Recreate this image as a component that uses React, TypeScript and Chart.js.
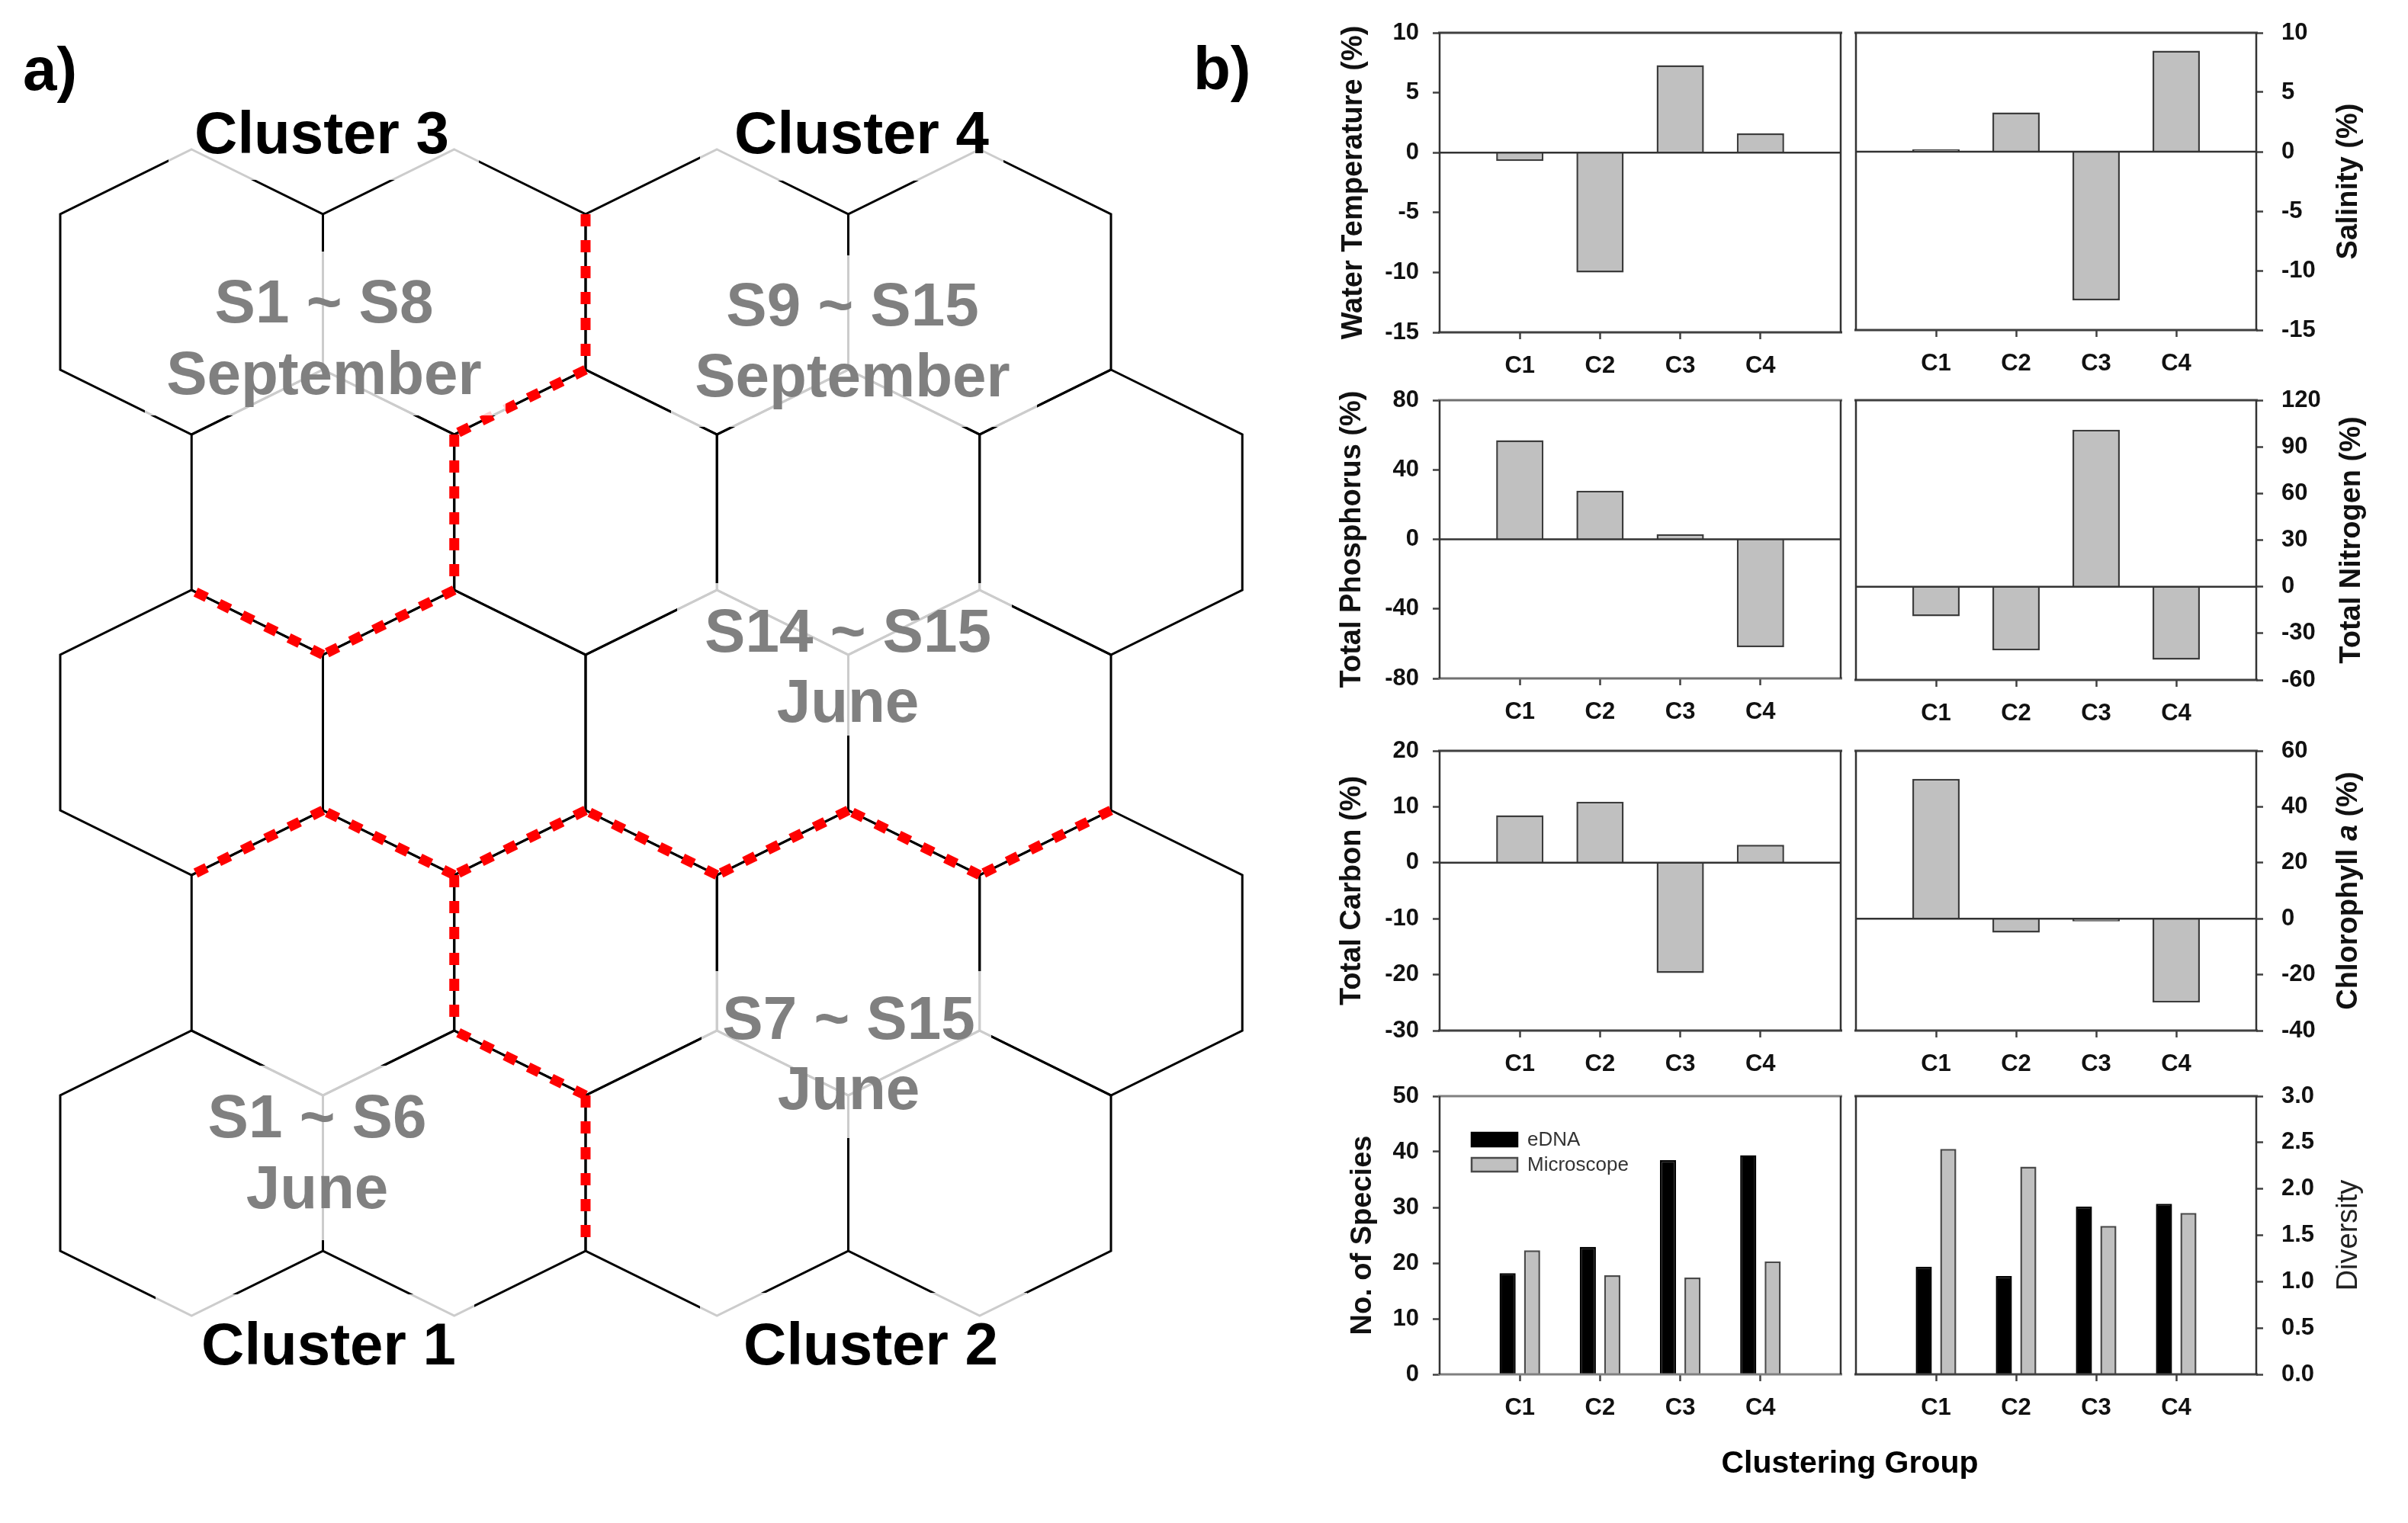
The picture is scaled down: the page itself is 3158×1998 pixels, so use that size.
import React, { useEffect, useRef } from "react";
import { Chart, registerables } from "chart.js";

Chart.register(...registerables);

const FONT = '"Liberation Sans", Arial, Helvetica, sans-serif';
Chart.defaults.font.family = FONT;

// ---------------- data: panel a (5 x 4 SOM, cluster of every cell) ----------------
const SOM_CLUSTER: number[][] = [
  [3, 3, 4, 4],
  [3, 4, 4, 4],
  [4, 4, 4, 4],
  [1, 2, 2, 2],
  [1, 1, 2, 2],
];

// ---------------- data: panel b ----------------
const GROUPS = ["C1", "C2", "C3", "C4"];
const WATER_TEMP = [-0.7, -10.0, 7.3, 1.6];
const SALINITY = [0.2, 3.3, -12.5, 8.5];
const TOTAL_P = [57, 28, 3, -62];
const TOTAL_N = [-19, -41, 101, -47];
const TOTAL_C = [8.5, 10.9, -19.7, 3.2];
const CHL_A = [50, -5, -1, -30];
const SPECIES_EDNA = [18.2, 22.9, 38.5, 39.4];
const SPECIES_MICRO = [22.3, 17.8, 17.4, 20.3];
const DIVERSITY_EDNA = [1.16, 1.06, 1.81, 1.84];
const DIVERSITY_MICRO = [2.43, 2.24, 1.6, 1.74];
const METHODS = ["eDNA", "Microscope"];

// ---------------- panel a drawing ----------------
const HEX_A = 0.353; // half of vertical side (in row-pitch units)
const HEX_B = 0.647; // half of total height (in row-pitch units)

function hexVerts(cx: number, cy: number) {
  return [
    [cx, cy - HEX_B],
    [cx + 0.5, cy - HEX_A],
    [cx + 0.5, cy + HEX_A],
    [cx, cy + HEX_B],
    [cx - 0.5, cy + HEX_A],
    [cx - 0.5, cy - HEX_A],
  ];
}

const MAP_TEXT = [
  { lines: ["Cluster 3"], x: 422, ys: [201], color: "#000", size: 78, box: [221, 115, 628, 236] },
  { lines: ["Cluster 4"], x: 1130, ys: [201], color: "#000", size: 78, box: [918, 115, 1316, 237] },
  { lines: ["Cluster 1"], x: 431, ys: [1790], color: "#000", size: 78, box: [204, 1698, 622, 1800] },
  { lines: ["Cluster 2"], x: 1142, ys: [1790], color: "#000", size: 78, box: [918, 1696, 1347, 1800] },
  { lines: ["S1 ~ S8", "September"], x: 425, ys: [423, 517], color: "#808080", size: 80, box: [190, 330, 663, 545] },
  { lines: ["S9 ~ S15", "September"], x: 1118, ys: [427, 520], color: "#808080", size: 80, box: [880, 335, 1360, 560] },
  { lines: ["S14 ~ S15", "June"], x: 1112, ys: [855, 947], color: "#808080", size: 80, box: [888, 765, 1327, 965] },
  { lines: ["S7 ~ S15", "June"], x: 1113, ys: [1363, 1455], color: "#808080", size: 80, box: [920, 1274, 1300, 1493] },
  { lines: ["S1 ~ S6", "June"], x: 416, ys: [1492, 1585], color: "#808080", size: 80, box: [260, 1398, 575, 1627] },
];

const hexPlugin = {
  id: "hexmap",
  afterDatasetsDraw(chart: any) {
    const { ctx } = chart;
    const xs = chart.scales.x;
    const ys = chart.scales.y;
    const P = (p: number[]) => [xs.getPixelForValue(p[0]), ys.getPixelForValue(p[1])];
    const cells = chart.data.datasets[0].data as any[];
    ctx.save();
    // black hex outlines
    ctx.strokeStyle = "#000";
    ctx.lineWidth = 3;
    ctx.lineJoin = "miter";
    cells.forEach((cell) => {
      const v = hexVerts(cell.x, cell.y).map(P);
      ctx.beginPath();
      v.forEach((p, i) => (i ? ctx.lineTo(p[0], p[1]) : ctx.moveTo(p[0], p[1])));
      ctx.closePath();
      ctx.stroke();
    });
    // red dashed boundaries between cells of different clusters
    const k = (r: number, c: number) => (SOM_CLUSTER[r] ? SOM_CLUSTER[r][c] : undefined);
    ctx.strokeStyle = "#ff0000";
    ctx.lineWidth = 13;
    ctx.lineCap = "butt";
    ctx.setLineDash([16, 18]);
    const seg = (a: number[], b: number[]) => {
      const pa = P(a), pb = P(b);
      ctx.beginPath();
      ctx.moveTo(pa[0], pa[1]);
      ctx.lineTo(pb[0], pb[1]);
      ctx.stroke();
    };
    cells.forEach((cell) => {
      const { r, c } = cell;
      const v = hexVerts(cell.x, cell.y);
      const odd = r % 2 === 1;
      const right = k(r, c + 1);
      const br = odd ? k(r + 1, c + 1) : k(r + 1, c);
      const bl = odd ? k(r + 1, c) : k(r + 1, c - 1);
      if (right !== undefined && right !== cell.k) seg(v[1], v[2]);
      if (br !== undefined && br !== cell.k) seg(v[2], v[3]);
      if (bl !== undefined && bl !== cell.k) seg(v[3], v[4]);
    });
    ctx.setLineDash([]);
    // label boxes and labels
    MAP_TEXT.forEach((t) => {
      ctx.fillStyle = "rgba(255,255,255,0.8)";
      ctx.fillRect(t.box[0], t.box[1], t.box[2] - t.box[0], t.box[3] - t.box[1]);
    });
    ctx.textAlign = "center";
    ctx.textBaseline = "alphabetic";
    MAP_TEXT.forEach((t) => {
      ctx.font = `bold ${t.size}px ${FONT}`;
      ctx.fillStyle = t.color;
      t.lines.forEach((ln, i) => ctx.fillText(ln, t.x, t.ys[i]));
    });
    // panel letters and shared axis title
    ctx.fillStyle = "#000";
    ctx.textAlign = "left";
    ctx.font = `bold 80px ${FONT}`;
    ctx.fillText("a)", 30, 118);
    ctx.fillText("b)", 1565, 117);
    ctx.textAlign = "center";
    ctx.font = `bold 41px ${FONT}`;
    ctx.fillText("Clustering Group", 2426, 1932);
    ctx.restore();
  },
};

function HexMap() {
  const ref = useRef<HTMLCanvasElement>(null);
  useEffect(() => {
    const cells: any[] = [];
    SOM_CLUSTER.forEach((row, r) =>
      row.forEach((cl, c) => cells.push({ x: c + (r % 2 ? 0.5 : 0), y: r, r, c, k: cl }))
    );
    const chart = new Chart(ref.current as HTMLCanvasElement, {
      type: "scatter",
      data: { datasets: [{ data: cells, pointRadius: 0, showLine: false }] },
      options: {
        responsive: false,
        animation: false,
        devicePixelRatio: 1,
        events: [],
        layout: { padding: 0 },
        scales: {
          x: { type: "linear", display: false, min: -0.7293, max: 8.4376 },
          y: { type: "linear", display: false, min: -1.3253, max: 5.5882, reverse: true },
        },
        plugins: { legend: { display: false }, tooltip: { enabled: false } },
      } as any,
      plugins: [hexPlugin],
    });
    return () => chart.destroy();
  }, []);
  return (
    <canvas
      ref={ref}
      width={3158}
      height={1998}
      style={{ position: "absolute", left: 0, top: 0, width: 3158, height: 1998 }}
    />
  );
}

// ---------------- panel b ----------------
const GRAY = "#c0c0c0";
const EDGE = "#3c3c3c";

type Series = { values: number[]; label: string; fill: string; border: string };
type PlotSpec = {
  x: number; y: number; w: number; h: number;
  side: "left" | "right";
  min: number; max: number; step: number; dec: number;
  series: Series[];
  title: { t: string; italic?: boolean }[];
  bold: boolean;
  titleOffset: number;
  legend?: boolean;
  frame?: string;
};

const one = (v: number[], label: string): Series[] => [{ values: v, label, fill: GRAY, border: EDGE }];
const two = (a: number[], b: number[]): Series[] => [
  { values: a, label: METHODS[0], fill: "#000", border: "#000" },
  { values: b, label: METHODS[1], fill: GRAY, border: "#4a4a4a" },
];

const PLOTS: PlotSpec[] = [
  { x: 1888, y: 43, w: 526, h: 393, side: "left", min: -15, max: 10, step: 5, dec: 0, series: one(WATER_TEMP, "Water Temperature"), title: [{ t: "Water Temperature (%)" }], bold: true, titleOffset: 112 },
  { x: 2434, y: 43, w: 525, h: 390, side: "right", min: -15, max: 10, step: 5, dec: 0, series: one(SALINITY, "Salinity"), title: [{ t: "Salinity (%)" }], bold: true, titleOffset: 122 },
  { x: 1888, y: 525, w: 526, h: 365, side: "left", min: -80, max: 80, step: 40, dec: 0, series: one(TOTAL_P, "Total Phosphorus"), title: [{ t: "Total Phosphorus (%)" }], bold: true, titleOffset: 114, frame: "#707070" },
  { x: 2434, y: 525, w: 525, h: 367, side: "right", min: -60, max: 120, step: 30, dec: 0, series: one(TOTAL_N, "Total Nitrogen"), title: [{ t: "Total Nitrogen (%)" }], bold: true, titleOffset: 126 },
  { x: 1888, y: 985, w: 526, h: 367, side: "left", min: -30, max: 20, step: 10, dec: 0, series: one(TOTAL_C, "Total Carbon"), title: [{ t: "Total Carbon (%)" }], bold: true, titleOffset: 114 },
  { x: 2434, y: 985, w: 525, h: 367, side: "right", min: -40, max: 60, step: 20, dec: 0, series: one(CHL_A, "Chlorophyll a"), title: [{ t: "Chlorophyll " }, { t: "a", italic: true }, { t: " (%)" }], bold: true, titleOffset: 122 },
  { x: 1888, y: 1438, w: 526, h: 365, side: "left", min: 0, max: 50, step: 10, dec: 0, series: two(SPECIES_EDNA, SPECIES_MICRO), title: [{ t: "No. of Species" }], bold: true, titleOffset: 100, legend: true, frame: "#808080" },
  { x: 2434, y: 1438, w: 525, h: 365, side: "right", min: 0, max: 3, step: 0.5, dec: 1, series: two(DIVERSITY_EDNA, DIVERSITY_MICRO), title: [{ t: "Diversity" }], bold: false, titleOffset: 122 },
];

const PAD_TOP = 30;
const X_AXIS_H = 70;
const LEFT_W = 148;
const RIGHT_W = 150;
const SIDE_PAD = 10;

function canvasRect(s: PlotSpec) {
  const left = s.side === "left" ? s.x - LEFT_W : s.x - SIDE_PAD;
  const w = s.side === "left" ? LEFT_W + s.w + SIDE_PAD : SIDE_PAD + s.w + RIGHT_W;
  return { left, top: s.y - PAD_TOP, w, h: PAD_TOP + s.h + X_AXIS_H };
}

function makeDecor(s: PlotSpec) {
  return {
    id: "decor",
    afterDatasetsDraw(chart: any) {
      const { ctx, chartArea: ca } = chart;
      const ys = chart.scales.y;
      ctx.save();
      if (s.min < 0) {
        const y0 = ys.getPixelForValue(0);
        ctx.strokeStyle = "#333";
        ctx.lineWidth = 2.5;
        ctx.beginPath();
        ctx.moveTo(ca.left, y0);
        ctx.lineTo(ca.right, y0);
        ctx.stroke();
      }
      const fc = s.frame || "#404040";
      ctx.strokeStyle = fc;
      ctx.lineWidth = 3;
      ctx.beginPath();
      ctx.moveTo(ca.left - 2, ca.top);
      ctx.lineTo(ca.right + 2, ca.top);
      ctx.moveTo(ca.left - 2, ca.bottom);
      ctx.lineTo(ca.right + 2, ca.bottom);
      ctx.stroke();
      ctx.strokeStyle = "#333";
      ctx.lineWidth = 2.5;
      ctx.beginPath();
      ctx.moveTo(ca.left, ca.top);
      ctx.lineTo(ca.left, ca.bottom);
      ctx.moveTo(ca.right, ca.top);
      ctx.lineTo(ca.right, ca.bottom);
      ctx.stroke();

      // rotated axis title (reads bottom to top)
      const tx = s.side === "left" ? ca.left - s.titleOffset : ca.right + s.titleOffset;
      const ty = (ca.top + ca.bottom) / 2;
      const fontOf = (p: any) => `${p.italic ? "italic " : ""}${s.bold ? "bold " : ""}38px ${FONT}`;
      let total = 0;
      s.title.forEach((p) => {
        ctx.font = fontOf(p);
        total += ctx.measureText(p.t).width;
      });
      ctx.translate(tx, ty);
      ctx.rotate(-Math.PI / 2);
      ctx.fillStyle = s.bold ? "#111" : "#222";
      ctx.textBaseline = "middle";
      ctx.textAlign = "left";
      let cx = -total / 2;
      s.title.forEach((p) => {
        ctx.font = fontOf(p);
        ctx.fillText(p.t, cx, 0);
        cx += ctx.measureText(p.t).width;
      });
      ctx.setTransform(1, 0, 0, 1, 0, 0);

      if (s.legend) {
        chart.data.datasets.forEach((ds: any, i: number) => {
          const bx = ca.left + 42;
          const by = ca.top + 48 + i * 33;
          ctx.fillStyle = ds.backgroundColor;
          ctx.fillRect(bx, by, 60, 18);
          ctx.strokeStyle = ds.borderColor;
          ctx.lineWidth = 2.5;
          ctx.strokeRect(bx, by, 60, 18);
          ctx.font = `26px ${FONT}`;
          ctx.fillStyle = "#333";
          ctx.textBaseline = "middle";
          ctx.textAlign = "left";
          ctx.fillText(ds.label, bx + 73, by + 10);
        });
      }
      ctx.restore();
    },
  };
}

function BarPlot({ spec }: { spec: PlotSpec }) {
  const ref = useRef<HTMLCanvasElement>(null);
  const rect = canvasRect(spec);
  useEffect(() => {
    const grouped = spec.series.length > 1;
    const tickFont = { family: FONT, size: 31, weight: "bold" as const };
    const chart = new Chart(ref.current as HTMLCanvasElement, {
      type: "bar",
      data: {
        datasets: spec.series.map((se) => ({
          label: se.label,
          data: GROUPS.map((_, i) => ({ x: i + 1, y: se.values[i] })),
          backgroundColor: se.fill,
          borderColor: se.border,
          borderWidth: 2.5,
          categoryPercentage: grouped ? 0.61 : 0.59,
          barPercentage: grouped ? 0.66 : 1.0,
        })),
      },
      options: {
        responsive: false,
        animation: false,
        devicePixelRatio: 1,
        events: [],
        layout: {
          padding: spec.side === "left"
            ? { left: 0, right: SIDE_PAD, top: PAD_TOP, bottom: 0 }
            : { left: SIDE_PAD, right: 0, top: PAD_TOP, bottom: 0 },
        },
        scales: {
          x: {
            type: "linear",
            offset: false,
            bounds: "ticks",
            min: 0,
            max: GROUPS.length + 1,
            afterBuildTicks: (sc: any) => {
              sc.ticks = GROUPS.map((_, i) => ({ value: i + 1 }));
            },
            afterFit: (sc: any) => {
              sc.height = X_AXIS_H;
              sc.paddingLeft = 0; sc.paddingRight = 0; sc.paddingTop = 0; sc.paddingBottom = 0;
            },
            ticks: {
              autoSkip: false,
              maxRotation: 0,
              padding: 17,
              font: tickFont,
              color: "#111",
              callback: (v: any) => GROUPS[Math.round(Number(v)) - 1] || "",
            },
            grid: { offset: false, drawOnChartArea: false, drawTicks: true, tickLength: 9, tickWidth: 2.5, tickColor: "#404040" },
            border: { display: false },
          },
          y: {
            type: "linear",
            position: spec.side,
            min: spec.min,
            max: spec.max,
            afterFit: (sc: any) => {
              sc.width = spec.side === "left" ? LEFT_W : RIGHT_W;
              sc.paddingLeft = 0; sc.paddingRight = 0; sc.paddingTop = 0; sc.paddingBottom = 0;
            },
            ticks: {
              stepSize: spec.step,
              padding: spec.side === "left" ? 18 : 24,
              font: tickFont,
              color: "#111",
              callback: (v: any) => Number(v).toFixed(spec.dec),
            },
            grid: { drawOnChartArea: false, drawTicks: true, tickLength: 9, tickWidth: 2.5, tickColor: "#404040" },
            border: { display: false },
          },
        },
        plugins: { legend: { display: false }, tooltip: { enabled: false } },
      } as any,
      plugins: [makeDecor(spec)],
    });
    return () => chart.destroy();
  }, []);
  return (
    <canvas
      ref={ref}
      width={rect.w}
      height={rect.h}
      style={{ position: "absolute", left: rect.left, top: rect.top, width: rect.w, height: rect.h }}
    />
  );
}

export default function App() {
  return (
    <div
      style={{
        position: "absolute",
        left: 0,
        top: 0,
        width: 3158,
        height: 1998,
        background: "#fff",
        overflow: "hidden",
      }}
    >
      <HexMap />
      {PLOTS.map((p, i) => (
        <BarPlot key={i} spec={p} />
      ))}
    </div>
  );
}
